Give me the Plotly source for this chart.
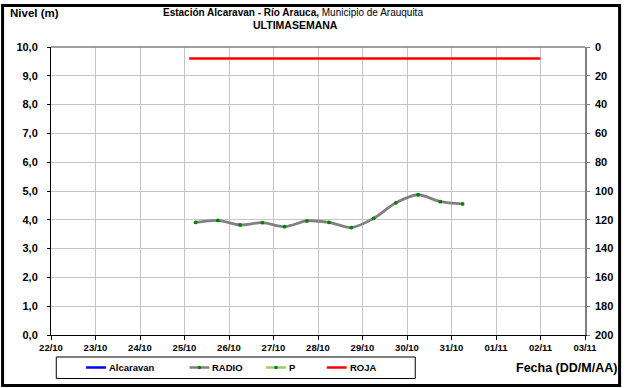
import plotly.graph_objects as go

# Water level readings (RADIO), every 12 hours
radio_dates = [
    "2013-10-25 06:00", "2013-10-25 18:00", "2013-10-26 06:00", "2013-10-26 18:00",
    "2013-10-27 06:00", "2013-10-27 18:00", "2013-10-28 06:00", "2013-10-28 18:00",
    "2013-10-29 06:00", "2013-10-29 18:00", "2013-10-30 06:00", "2013-10-30 18:00",
    "2013-10-31 06:00",
]
radio_levels = [3.91, 3.98, 3.82, 3.90, 3.76, 3.96, 3.91, 3.73, 4.05, 4.59, 4.87, 4.63, 4.55]

# Red alert threshold
roja_dates = ["2013-10-25 02:30", "2013-11-02 00:00"]
roja_levels = [9.6, 9.6]

# Series without readings this week
alcaravan_dates = []
alcaravan_levels = []
p_dates = []
p_values = []

x_range = ["2013-10-22", "2013-11-03"]

FONT = "Liberation Sans, Arial, sans-serif"

# Series styles, shared by the traces and the legend box
STYLES = {
    "Alcaravan": dict(line="#0000ff", marker=None),
    "RADIO": dict(line="#808080", marker="#008000"),
    "P": dict(line="#9acd62", marker="#008000"),
    "ROJA": dict(line="#ff0000", marker=None),
}

# Plot-area geometry in pixels (used for paper-coordinate conversions)
W, H = 625, 388
L, R, T, B = 50.7, 587.7, 47, 335


def px(x):
    return (x - L) / (R - L)


def py(y):
    return (B - y) / (B - T)


fig = go.Figure()

fig.add_trace(go.Scatter(
    x=alcaravan_dates, y=alcaravan_levels, name="Alcaravan", mode="lines",
    line=dict(color=STYLES["Alcaravan"]["line"], width=2.5),
))
fig.add_trace(go.Scatter(
    x=radio_dates, y=radio_levels, name="RADIO", mode="lines+markers",
    line=dict(color=STYLES["RADIO"]["line"], width=2.8, shape="spline", smoothing=0.8),
    marker=dict(color=STYLES["RADIO"]["marker"], size=3.8),
))
fig.add_trace(go.Scatter(
    x=p_dates, y=p_values, name="P", mode="lines+markers", yaxis="y2",
    line=dict(color=STYLES["P"]["line"], width=2.5),
    marker=dict(color=STYLES["P"]["marker"], size=4),
))
fig.add_trace(go.Scatter(
    x=roja_dates, y=roja_levels, name="ROJA", mode="lines",
    line=dict(color=STYLES["ROJA"]["line"], width=2.5),
))

xtickfont = dict(family=FONT, size=9.5, color="black", weight="bold")
ytickfont = dict(family=FONT, size=11, color="black", weight="bold")

fig.update_layout(
    width=W, height=H,
    margin=dict(l=L, r=W - R, t=T, b=H - B),
    paper_bgcolor="white", plot_bgcolor="white",
    separators=",.",
    font=dict(family=FONT, size=11, color="black"),
    showlegend=False,
    xaxis=dict(
        type="date", range=x_range, dtick=86400000, tickformat="%d/%m",
        tick0="2013-10-22",
        showgrid=True, gridcolor="#c4c4c4", gridwidth=1,
        showline=True, linecolor="black", linewidth=1,
        ticks="outside", ticklen=4, tickcolor="black",
        ticklabelstandoff=0,
        tickfont=xtickfont, zeroline=False,
    ),
    yaxis=dict(
        range=[0, 10], dtick=1, tickformat=".1f",
        showgrid=True, gridcolor="#c4c4c4", gridwidth=1,
        showline=True, linecolor="black", linewidth=1,
        ticks="outside", ticklen=3, tickcolor="black",
        ticklabelstandoff=7,
        tickfont=ytickfont, zeroline=False,
    ),
    yaxis2=dict(
        range=[200, 0], dtick=20, overlaying="y", side="right",
        showgrid=False, showline=True, linecolor="#808080", linewidth=1.5,
        ticks="outside", ticklen=3, tickcolor="#808080",
        ticklabelstandoff=3,
        tickfont=ytickfont, zeroline=False,
    ),
)

# Gray frame along the top of the plot area
fig.add_shape(type="line", xref="paper", yref="paper", x0=0, x1=1, y0=1, y1=1,
              line=dict(color="#808080", width=1.5))

# Outer black frame of the chart
fig.add_shape(type="rect", xref="paper", yref="paper",
              x0=px(2), x1=px(622.5), y0=py(5.5), y1=py(385.5),
              line=dict(color="black", width=3), layer="above")

# Legend box below the plot
LEG_Y = 367.5
fig.add_shape(type="rect", xref="paper", yref="paper",
              x0=px(56), x1=px(417), y0=py(357), y1=py(378.5),
              line=dict(color="black", width=1), fillcolor="white")
legend_x = {"Alcaravan": 86, "RADIO": 190, "P": 267, "ROJA": 328}
for name, x0 in legend_x.items():
    st = STYLES[name]
    fig.add_shape(type="line", xref="paper", yref="paper",
                  x0=px(x0), x1=px(x0 + 20), y0=py(LEG_Y), y1=py(LEG_Y),
                  line=dict(color=st["line"], width=2.5))
    if st["marker"]:
        cx = x0 + 10
        fig.add_shape(type="circle", xref="paper", yref="paper",
                      x0=px(cx - 1.8), x1=px(cx + 1.8), y0=py(LEG_Y + 1.8), y1=py(LEG_Y - 1.8),
                      line=dict(width=0), fillcolor=st["marker"])
    fig.add_annotation(
        xref="paper", yref="paper", x=px(x0 + 21), y=py(LEG_Y), xanchor="left", yanchor="middle",
        text=f"<b>{name}</b>", showarrow=False,
        font=dict(family=FONT, size=9.5, color="black"),
    )

fig.add_annotation(
    xref="paper", yref="paper", x=px(294), y=py(13), xanchor="center", yanchor="middle",
    text="<b>Estación Alcaravan - Río Arauca,</b> Municipio de Arauquita",
    showarrow=False, font=dict(family=FONT, size=10, color="black"),
)
fig.add_annotation(
    xref="paper", yref="paper", x=px(297), y=py(24.5), xanchor="center", yanchor="middle",
    text="<b>ULTIMASEMANA</b>",
    showarrow=False, font=dict(family=FONT, size=10.5, color="black"),
)
fig.add_annotation(
    xref="paper", yref="paper", x=px(7), y=py(13), xanchor="left", yanchor="middle",
    text="<b>Nivel (m)</b>", showarrow=False, font=dict(family=FONT, size=11.5, color="black"),
)
fig.add_annotation(
    xref="paper", yref="paper", x=px(622), y=py(367.5), xanchor="right", yanchor="middle",
    text="<b>Fecha (DD/M/AA)</b>", showarrow=False,
    font=dict(family=FONT, size=12.5, color="black"),
)

fig.write_html("out.html")
